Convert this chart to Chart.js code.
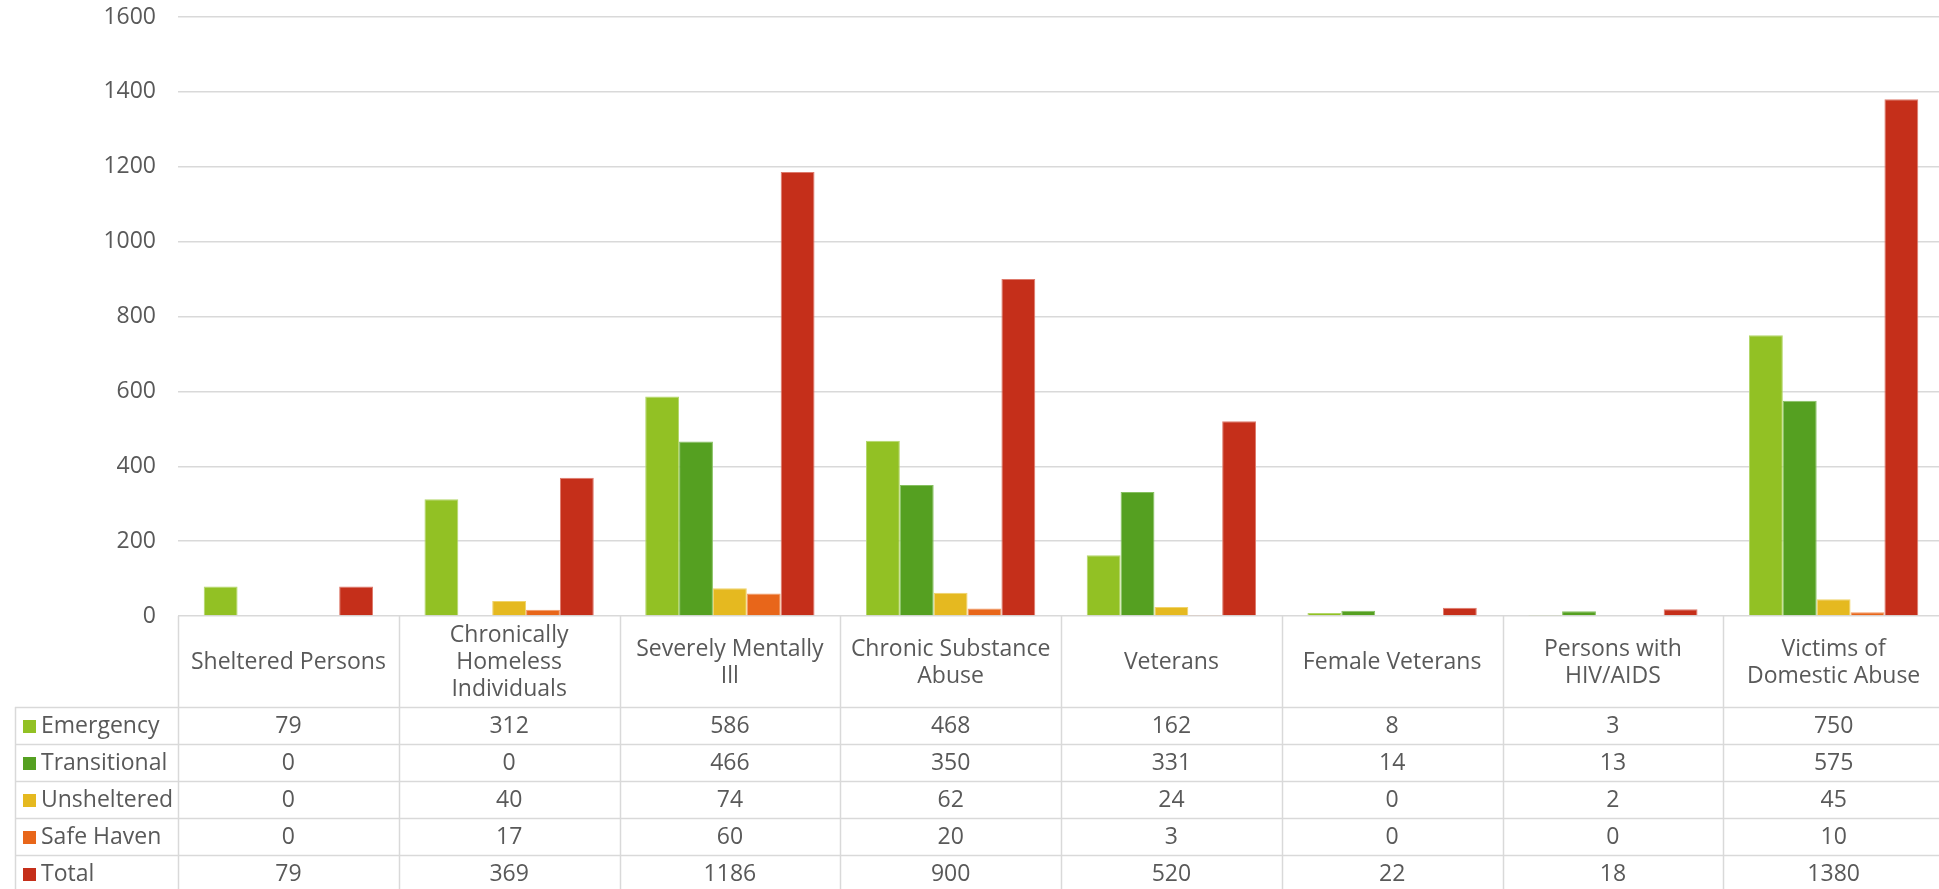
<!DOCTYPE html>
<html>
<head>
<meta charset="utf-8">
<title>Homeless subpopulations</title>
<script src="https://cdn.jsdelivr.net/npm/chart.js@4"></script>
<style>
  html, body { margin: 0; padding: 0; background: #fff; overflow: hidden; }
  #wrap { position: relative; width: 1950px; height: 889px; }
</style>
</head>
<body>
<div id="wrap"><canvas id="chart"></canvas></div>
<script>
/* global Chart */

// categories (header cells of the data table, already split into lines)
const categorias = [
  ['Sheltered Persons'],
  ['Chronically', 'Homeless', 'Individuals'],
  ['Severely Mentally', 'Ill'],
  ['Chronic Substance', 'Abuse'],
  ['Veterans'],
  ['Female Veterans'],
  ['Persons with', 'HIV/AIDS'],
  ['Victims of', 'Domestic Abuse']
]

const emergency = [79, 312, 586, 468, 162, 8, 3, 750]
const transitional = [0, 0, 466, 350, 331, 14, 13, 575]
const unsheltered = [0, 40, 74, 62, 24, 0, 2, 45]
const safeHaven = [0, 17, 60, 20, 3, 0, 0, 10]
const total = [79, 369, 1186, 900, 520, 22, 18, 1380]

const yTicks = [0, 200, 400, 600, 800, 1000, 1200, 1400, 1600]

const FONT = '"Open Sans", "DejaVu Sans", sans-serif'
const FONT_SIZE = 23
const TEXT_COLOR = '#595959'
const LINE_COLOR = '#d9d9d9'

function serie (label, data, color, edge) {
  return {
    label,
    data,
    backgroundColor: color,
    borderColor: edge,
    borderWidth: 1,
    categoryPercentage: 0.767,
    barPercentage: 1
  }
}

// draws the Excel-like data table under the plot, using the x scale for columns
const dataTablePlugin = {
  id: 'dataTable',
  afterDraw (chart) {
    const ctx = chart.ctx
    const area = chart.chartArea
    const xScale = chart.scales.x
    const n = categorias.length
    const colW = (area.right - area.left) / n
    const headerTop = area.bottom
    const headerBottom = area.bottom + 91
    const rowH = 37
    const legendLeft = 15
    const bottom = chart.height

    ctx.save()
    ctx.strokeStyle = LINE_COLOR
    ctx.lineWidth = 1.5

    // vertical lines
    for (let i = 0; i <= n; i++) {
      const x = Math.round(area.left + i * colW) + 0.5
      ctx.beginPath()
      ctx.moveTo(x, headerTop)
      ctx.lineTo(x, bottom)
      ctx.stroke()
    }
    ctx.beginPath()
    ctx.moveTo(legendLeft + 0.5, headerBottom)
    ctx.lineTo(legendLeft + 0.5, bottom)
    ctx.stroke()

    // horizontal lines
    const datasets = chart.data.datasets
    for (let r = 0; r <= datasets.length; r++) {
      const y = Math.round(headerBottom + r * rowH) + 0.5
      if (y > bottom) break
      ctx.beginPath()
      ctx.moveTo(legendLeft, y)
      ctx.lineTo(area.right, y)
      ctx.stroke()
    }

    ctx.fillStyle = TEXT_COLOR
    ctx.font = `${FONT_SIZE}px ${FONT}`
    ctx.textAlign = 'center'
    ctx.textBaseline = 'middle'

    // header cells
    const headerMid = (headerTop + headerBottom) / 2 + 1
    const lineH = 27
    categorias.forEach((lines, i) => {
      const cx = xScale.getPixelForValue(i)
      const y0 = headerMid - (lines.length - 1) * lineH / 2
      lines.forEach((txt, k) => ctx.fillText(txt, cx, y0 + k * lineH))
    })

    // data rows
    datasets.forEach((ds, r) => {
      const cy = headerBottom + r * rowH + rowH / 2 + 1
      ctx.fillStyle = ds.backgroundColor
      ctx.fillRect(23, Math.round(cy - 7), 13, 13)
      ctx.fillStyle = TEXT_COLOR
      ctx.textAlign = 'left'
      ctx.fillText(ds.label, 41, cy)
      ctx.textAlign = 'center'
      ds.data.forEach((v, i) => {
        ctx.fillText(String(v), xScale.getPixelForValue(i), cy)
      })
    })

    ctx.restore()
  }
}

const ctx = document.getElementById('chart').getContext('2d')

new Chart(ctx, {
  type: 'bar',
  data: {
    labels: categorias.map(c => c.join(' ')),
    datasets: [
      serie('Emergency', emergency, '#92c124', '#b3d76a'),
      serie('Transitional', transitional, '#55a021', '#86c060'),
      serie('Unsheltered', unsheltered, '#e5b920', '#f0d36a'),
      serie('Safe Haven', safeHaven, '#e8661a', '#f29a66'),
      serie('Total', total, '#c52f1a', '#de7a6c')
    ]
  },
  options: {
    responsive: true,
    maintainAspectRatio: false,
    animation: false,
    layout: {
      padding: { top: 17, bottom: 273, left: 0, right: 6 }
    },
    plugins: {
      legend: { display: false },
      tooltip: { enabled: false }
    },
    scales: {
      x: {
        display: false
      },
      y: {
        min: 0,
        max: 1600,
        afterBuildTicks (scale) {
          scale.ticks = yTicks.map(v => ({ value: v }))
        },
        afterFit (scale) {
          scale.width = 178
          scale.paddingTop = 0
          scale.paddingBottom = 0
        },
        border: { display: false },
        grid: {
          color: LINE_COLOR,
          lineWidth: 1.5,
          drawTicks: false
        },
        ticks: {
          padding: 22,
          color: TEXT_COLOR,
          font: { family: FONT, size: FONT_SIZE },
          callback: (v) => String(v)
        }
      }
    }
  },
  plugins: [dataTablePlugin]
})
</script>
</body>
</html>
